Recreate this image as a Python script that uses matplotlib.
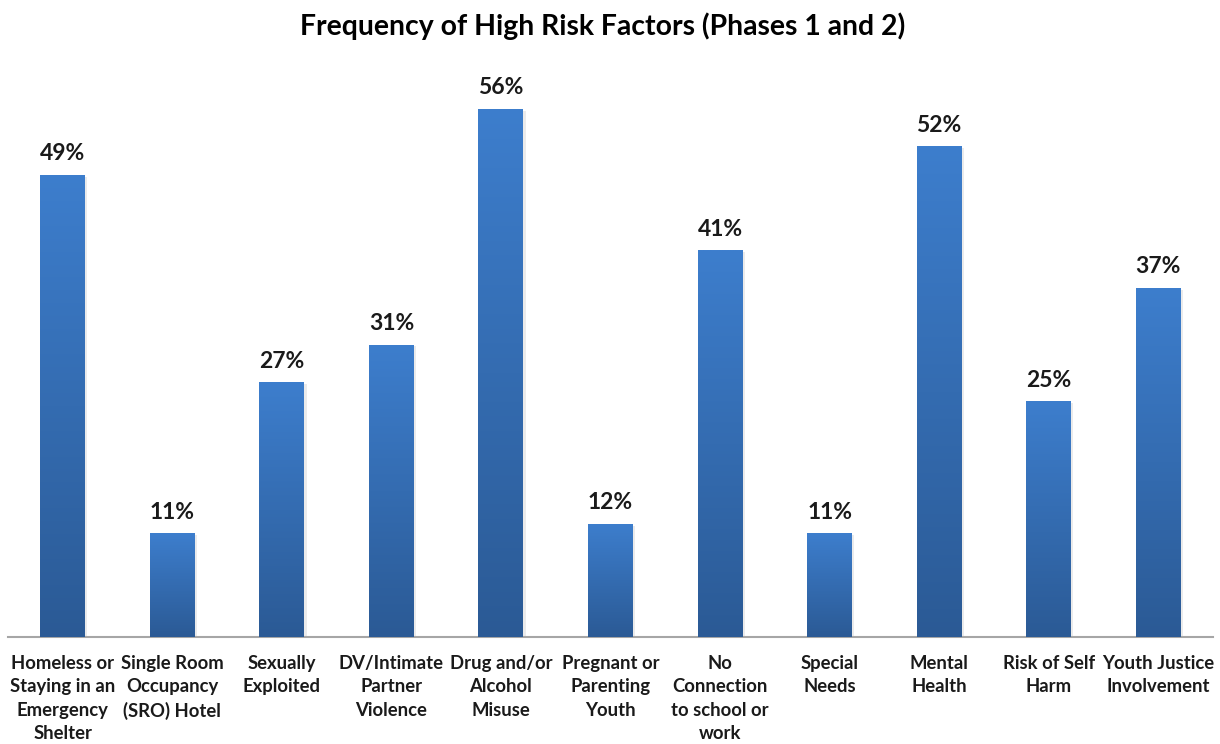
import matplotlib
matplotlib.use("Agg")
import matplotlib.pyplot as plt
import numpy as np
from matplotlib.colors import LinearSegmentedColormap

categories = [
    "Homeless or\nStaying in an\nEmergency\nShelter",
    "Single Room\nOccupancy\n(SRO) Hotel",
    "Sexually\nExploited",
    "DV/Intimate\nPartner\nViolence",
    "Drug and/or\nAlcohol\nMisuse",
    "Pregnant or\nParenting\nYouth",
    "No\nConnection\nto school or\nwork",
    "Special\nNeeds",
    "Mental\nHealth",
    "Risk of Self\nHarm",
    "Youth Justice\nInvolvement",
]
values = [49, 11, 27, 31, 56, 12, 41, 11, 52, 25, 37]
title = "Frequency of High Risk Factors (Phases 1 and 2)"

plt.rcParams['font.family'] = ['Lato', 'DejaVu Sans']

fig = plt.figure(figsize=(12.2, 7.44), dpi=100)
ax = fig.add_axes([8/1220, (744-637)/744, 1205/1220, (637-71)/744])

x = np.arange(len(values))
bars = ax.bar(x, values, width=0.41, color='none', edgecolor='none', zorder=2)

cmap = LinearSegmentedColormap.from_list('g', ['#2b5a95', '#3d7ecd'])
grad = np.linspace(0, 1, 256).reshape(-1, 1)
for b in bars:
    x0, y0 = b.get_x(), b.get_y()
    w, h = b.get_width(), b.get_height()
    # soft shadow
    ax.bar(x0 + w/2 + 0.02, h, width=w, bottom=-0.2, color='#000000', alpha=0.08, zorder=1, edgecolor='none')
    im = ax.imshow(grad, extent=[x0, x0 + w, y0, y0 + h], origin='lower',
                   cmap=cmap, aspect='auto', zorder=3)
    im.set_clip_path(b)

for xi, v in zip(x, values):
    ax.text(xi, v + 1.55, f"{v}%", ha='center', va='baseline', fontsize=16.5,
            fontweight='bold', color='#1a1a1a')

ax.set_xlim(-0.5, len(values) - 0.5)
ax.set_ylim(0, 60)
ax.set_xticks(x)
ax.set_xticklabels(categories, fontsize=13.3, fontweight='bold', color='#1a1a1a',
                   linespacing=1.45, va='top')
ax.tick_params(axis='x', length=0, pad=13)
ax.set_yticks([])
for s in ['top', 'right', 'left']:
    ax.spines[s].set_visible(False)
ax.spines['bottom'].set_color('#a6a6a6')
ax.spines['bottom'].set_linewidth(1.5)

fig.text(603/1220, 1 - 26/744, title, ha='center', va='center', fontsize=20.4,
         fontweight='bold', color='#000000')

fig.savefig("out.png", dpi=100)
